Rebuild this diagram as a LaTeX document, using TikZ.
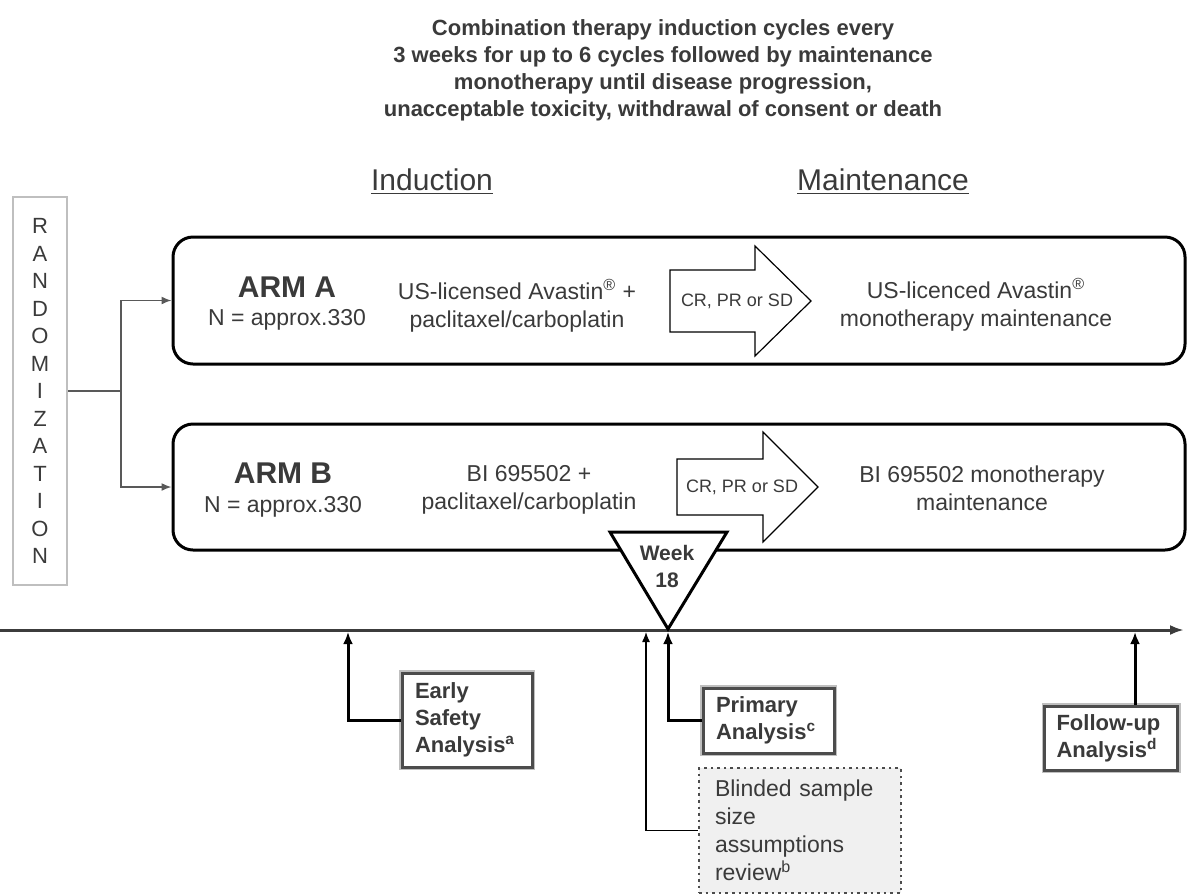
\documentclass[tikz,border=0pt]{standalone}
\usepackage{fontspec}
\setmainfont{Liberation Sans}
\usetikzlibrary{arrows.meta}
\definecolor{txt}{HTML}{3A3A3A}
\definecolor{axis}{HTML}{3C3C3C}

\begin{document}
\begin{tikzpicture}[x=0.5pt, y=-0.5pt,
  armbox/.style={draw, line width=1.5pt, rounded corners=10pt, minimum width=506pt},
  armname/.style={font=\fontsize{15}{18}\selectfont\bfseries, text=txt},
  armtxt/.style={font=\fontsize{11.5}{14}\selectfont, text=txt, align=center},
  crtxt/.style={font=\fontsize{9}{11}\selectfont, text=txt},
  anbox/.style={draw=black!70, line width=1.5pt, fill=white, preaction={draw=black!25, line width=3pt},
    align=left, text=txt, font=\fontsize{11}{13.5}\selectfont\bfseries, inner ysep=3pt},
  conn/.style={line width=0.75pt, draw=black!65, -{Latex[length=5pt,width=4pt]}},
  thickarr/.style={line width=1.5pt, -{Latex[length=6pt,width=5pt]}}]
\useasboundingbox (0,0) rectangle (1187,895);

\node[font=\fontsize{11}{13.5}\selectfont\bfseries, text=txt, align=center] (title) at (663,70)
  {Combination therapy induction cycles every\\3 weeks for up to 6 cycles followed by maintenance\\monotherapy until disease progression,\\unacceptable toxicity, withdrawal of consent or death};
\node[font=\fontsize{15}{18}\selectfont, text=txt] (ind) at (432,182) {\underline{Induction}};
\node[font=\fontsize{15}{18}\selectfont, text=txt] (mnt) at (883,182) {\underline{Maintenance}};

\node[draw=black!25, line width=1pt, minimum width=27pt, minimum height=194pt, align=center,
  font=\fontsize{11}{13.75}\selectfont, text=txt] (rand) at (40,391)
  {R\\A\\N\\D\\O\\M\\I\\Z\\A\\T\\I\\O\\N};

% Arms:
\node[armbox, minimum height=63.5pt] (armA) at (679,300.5) {};
\node[armbox, minimum height=63pt] (armB) at (679,487) {};
\coordinate (split) at (121,391);
\draw[line width=0.75pt, draw=black!65] (rand.east) -- (split);
\draw[conn] (split) |- (armA.west);
\draw[conn] (split) |- (armB.west);

\node[armname] (nameA) at (287,287) {ARM A};
\node[armtxt] (nA) at (287,320) {N = approx.330};
\node[armname] (nameB) at (283,473) {ARM B};
\node[armtxt] (nB) at (283,507) {N = approx.330};
\node[armtxt] (indA) at (517,306) {US-licensed Avastin\textsuperscript{®} +\\paclitaxel/carboplatin};
\node[armtxt] (indB) at (529,490) {BI 695502 +\\paclitaxel/carboplatin};
\node[armtxt] (mntA) at (976,305) {US-licenced Avastin\textsuperscript{®}\\monotherapy maintenance};
\node[armtxt] (mntB) at (982,488) {BI 695502 monotherapy\\maintenance};

% Response arrows:
\draw[line width=0.6pt, fill=white] (670,270) -- (755,270) -- (755,246) -- (811,301) -- (755,356) -- (755,332) -- (670,332) -- cycle;
\draw[line width=0.6pt, fill=white] (677,459) -- (763,459) -- (763,432) -- (818,487) -- (763,542) -- (763,515) -- (677,515) -- cycle;
\node[crtxt] (crA) at (737,301) {CR, PR or SD};
\node[crtxt] (crB) at (742,487) {CR, PR or SD};

% Timeline:
\coordinate (tl0) at (0,630);
\coordinate (tl1) at (1184,630);
\draw[line width=1.5pt, draw=axis, -{Latex[length=7pt,width=5pt]}] (tl0) -- (tl1);
\draw[line width=1.5pt, fill=white, line join=miter] (610,532) -- (727,532) -- (668,629) -- cycle;
\node[font=\fontsize{10.5}{13.5}\selectfont\bfseries, text=txt, align=center] (week) at (667,566) {Week\\18};

% Analyses:
\node[anbox, minimum width=65pt, minimum height=47pt, inner xsep=6.5pt, text width=52pt] (early) at (467,720)
  {Early\\Safety\\Analysis\textsuperscript{a}};
\node[anbox, minimum width=65.5pt, minimum height=32.5pt, inner xsep=6.5pt, text width=52.5pt] (prim) at (768.5,720.5)
  {Primary\\Analysis\textsuperscript{c}};
\node[anbox, minimum width=66.5pt, minimum height=32pt, inner xsep=6pt, text width=54.5pt] (fup) at (1111,738)
  {Follow-up\\Analysis\textsuperscript{d}};
\node[draw=black!70, line width=1.3pt, dash pattern=on 1.3pt off 2pt, fill=black!6, align=left, text=txt,
  font=\fontsize{11.5}{14}\selectfont, minimum width=101pt, minimum height=62.5pt, inner xsep=8pt, text width=85pt] (blind) at (800,830.5)
  {Blinded sample\\size\\assumptions\\review\textsuperscript{b}};

\coordinate (esTop) at (348,632);
\coordinate (paTop) at (668,632);
\coordinate (bsTop) at (646,632);
\coordinate (fuTop) at (1135,632);
\draw[thickarr] (early.west) -| (esTop);
\draw[thickarr] (prim.west) -| (paTop);
\draw[line width=0.6pt, -{Latex[length=5pt,width=4pt]}] (blind.west) -| (bsTop);
\draw[thickarr] (fup.north -| fuTop) -- (fuTop);
\end{tikzpicture}
\end{document}
